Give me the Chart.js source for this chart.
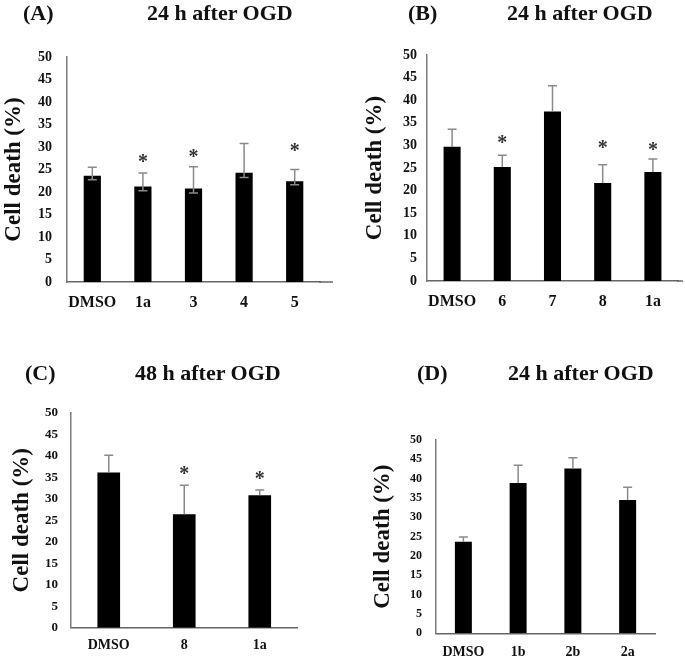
<!DOCTYPE html>
<html>
<head>
<meta charset="utf-8">
<script src="https://cdn.jsdelivr.net/npm/chart.js@4.4.1/dist/chart.umd.min.js"></script>
<style>
  body { margin: 0; background: #fff; }
  #wrap { position: relative; width: 685px; height: 661px; overflow: hidden; }
  canvas { position: absolute; }
  .t { position: absolute; font: bold 22px "Liberation Serif", "Times New Roman", serif; line-height: 1; color: #111; white-space: nowrap; }
</style>
</head>
<body>
<div id="wrap">
  <canvas id="cA" width="340" height="320" style="left:0;top:0"></canvas>
  <canvas id="cB" width="345" height="320" style="left:340px;top:0"></canvas>
  <canvas id="cC" width="340" height="331" style="left:0;top:330px"></canvas>
  <canvas id="cD" width="345" height="331" style="left:340px;top:330px"></canvas>
  <div class="t" style="left:23px;top:2px">(A)</div>
  <div class="t" style="left:147px;top:2px">24 h after OGD</div>
  <div class="t" style="left:408px;top:2px">(B)</div>
  <div class="t" style="left:507px;top:2px">24 h after OGD</div>
  <div class="t" style="left:25px;top:362px">(C)</div>
  <div class="t" style="left:135px;top:362px">48 h after OGD</div>
  <div class="t" style="left:417px;top:362px">(D)</div>
  <div class="t" style="left:508px;top:362px">24 h after OGD</div>
</div>
<script>
// Panel A
const labelsA = ['DMSO', '1a', '3', '4', '5'];
const meanA = [23.6, 21.2, 20.8, 24.3, 22.4];
const upperA = [25.5, 24.2, 25.6, 30.8, 25.0];
const lowerA = [22.7, 20.3, 19.8, 23.2, 21.6];
const starA = [null, 27.8, 28.9, null, 30.3];

// Panel B
const labelsB = ['DMSO', '6', '7', '8', '1a'];
const meanB = [29.7, 25.2, 37.5, 21.7, 24.1];
const upperB = [33.6, 27.8, 43.2, 25.7, 27.0];
const starB = [null, 31.6, null, 30.5, 30.1];

// Panel C
const labelsC = ['DMSO', '8', '1a'];
const meanC = [36.1, 26.4, 30.8];
const upperC = [40.1, 33.1, 32.0];
const starC = [null, 36.8, 35.7];

// Panel D
const labelsD = ['DMSO', '1b', '2b', '2a'];
const meanD = [23.7, 38.9, 42.6, 34.5];
const upperD = [24.9, 43.5, 45.4, 37.8];

const yTicks = [0, 5, 10, 15, 20, 25, 30, 35, 40, 45, 50];
const serif = '"Liberation Serif", "Times New Roman", serif';

// error bars, asterisks and the little x-axis overhang
const extrasPlugin = {
  id: 'extras',
  afterDatasetsDraw(chart, args, opts) {
    const ctx = chart.ctx;
    const y = chart.scales.y;
    const meta = chart.getDatasetMeta(0);
    ctx.save();
    ctx.strokeStyle = '#8a8a8a';
    ctx.lineWidth = 1.5;
    meta.data.forEach((bar, i) => {
      const x = bar.x;
      const top = y.getPixelForValue(opts.upper[i]);
      const low = y.getPixelForValue(opts.lower ? opts.lower[i] : opts.mean[i]);
      ctx.beginPath();
      ctx.moveTo(x, low);
      ctx.lineTo(x, top);
      ctx.moveTo(x - 4.5, top);
      ctx.lineTo(x + 4.5, top);
      if (opts.lower) {
        ctx.moveTo(x - 4.5, low);
        ctx.lineTo(x + 4.5, low);
      }
      ctx.stroke();
    });
    if (opts.star) {
      ctx.fillStyle = '#333';
      ctx.font = 'bold 20px ' + serif;
      ctx.textAlign = 'center';
      ctx.textBaseline = 'alphabetic';
      meta.data.forEach((bar, i) => {
        if (opts.star[i] == null) return;
        ctx.fillText('*', bar.x, y.getPixelForValue(opts.star[i]) + 11);
      });
    }
    if (opts.ext) {
      const base = y.getPixelForValue(0);
      ctx.strokeStyle = '#666';
      ctx.beginPath();
      ctx.moveTo(chart.chartArea.right - 1, base);
      ctx.lineTo(chart.chartArea.right + opts.ext, base);
      ctx.stroke();
    }
    ctx.restore();
  }
};

function makeChart(id, labels, mean, extras, cfg) {
  return new Chart(document.getElementById(id), {
    type: 'bar',
    data: {
      labels: labels,
      datasets: [{
        data: mean,
        backgroundColor: '#000',
        borderWidth: 0,
        barPercentage: cfg.bp,
        categoryPercentage: 1
      }]
    },
    options: {
      responsive: false,
      animation: false,
      layout: { padding: { left: 0, right: cfg.pr, top: cfg.pt, bottom: cfg.pb } },
      plugins: {
        legend: { display: false },
        tooltip: { enabled: false },
        extras: extras
      },
      scales: {
        x: {
          type: 'category',
          offset: true,
          grid: { display: false, drawTicks: false },
          border: { display: true, color: '#666', width: 1.5 },
          ticks: {
            color: '#111',
            padding: cfg.xpad,
            autoSkip: false,
            maxRotation: 0,
            font: { family: serif, weight: 'bold', size: cfg.xfs }
          },
          afterFit(scale) { scale.height = cfg.xh; }
        },
        y: {
          min: 0,
          max: 50,
          afterBuildTicks(scale) { scale.ticks = yTicks.map(v => ({ value: v })); },
          grid: { display: false, drawTicks: false },
          border: { display: true, color: '#7a7a7a', width: 1.5 },
          ticks: {
            color: '#111',
            padding: cfg.ypad,
            autoSkip: false,
            font: { family: serif, weight: 'bold', size: cfg.yfs }
          },
          title: {
            display: true,
            text: 'Cell death (%)',
            color: '#111',
            padding: { top: cfg.tpad, bottom: 0 },
            font: { family: serif, weight: 'bold', size: 23, lineHeight: 1.2 }
          },
          afterFit(scale) { scale.width = cfg.yw; }
        }
      }
    },
    plugins: [extrasPlugin]
  });
}

makeChart('cA', labelsA, meanA,
  { mean: meanA, upper: upperA, lower: lowerA, star: starA, ext: 13 },
  { yw: 67, pr: 20, pt: 57, pb: 8, xh: 30, bp: 0.34, xpad: 11, xfs: 16, ypad: 15, yfs: 14, tpad: 0 });

makeChart('cB', labelsB, meanB,
  { mean: meanB, upper: upperB, star: starB, ext: 5 },
  { yw: 87, pr: 7, pt: 55, pb: 9, xh: 30, bp: 0.34, xpad: 11, xfs: 16, ypad: 10, yfs: 14, tpad: 21 });

makeChart('cC', labelsC, meanC,
  { mean: meanC, upper: upperC, star: starC },
  { yw: 71, pr: 42.5, pt: 82.7, pb: 8.3, xh: 25, bp: 0.30, xpad: 9, xfs: 14, ypad: 13, yfs: 13, tpad: 8 });

makeChart('cD', labelsD, meanD,
  { mean: meanD, upper: upperD },
  { yw: 96, pr: 30, pt: 110, pb: 2.7, xh: 25, bp: 0.31, xpad: 11, xfs: 14, ypad: 14, yfs: 12, tpad: 29 });
</script>
</body>
</html>
